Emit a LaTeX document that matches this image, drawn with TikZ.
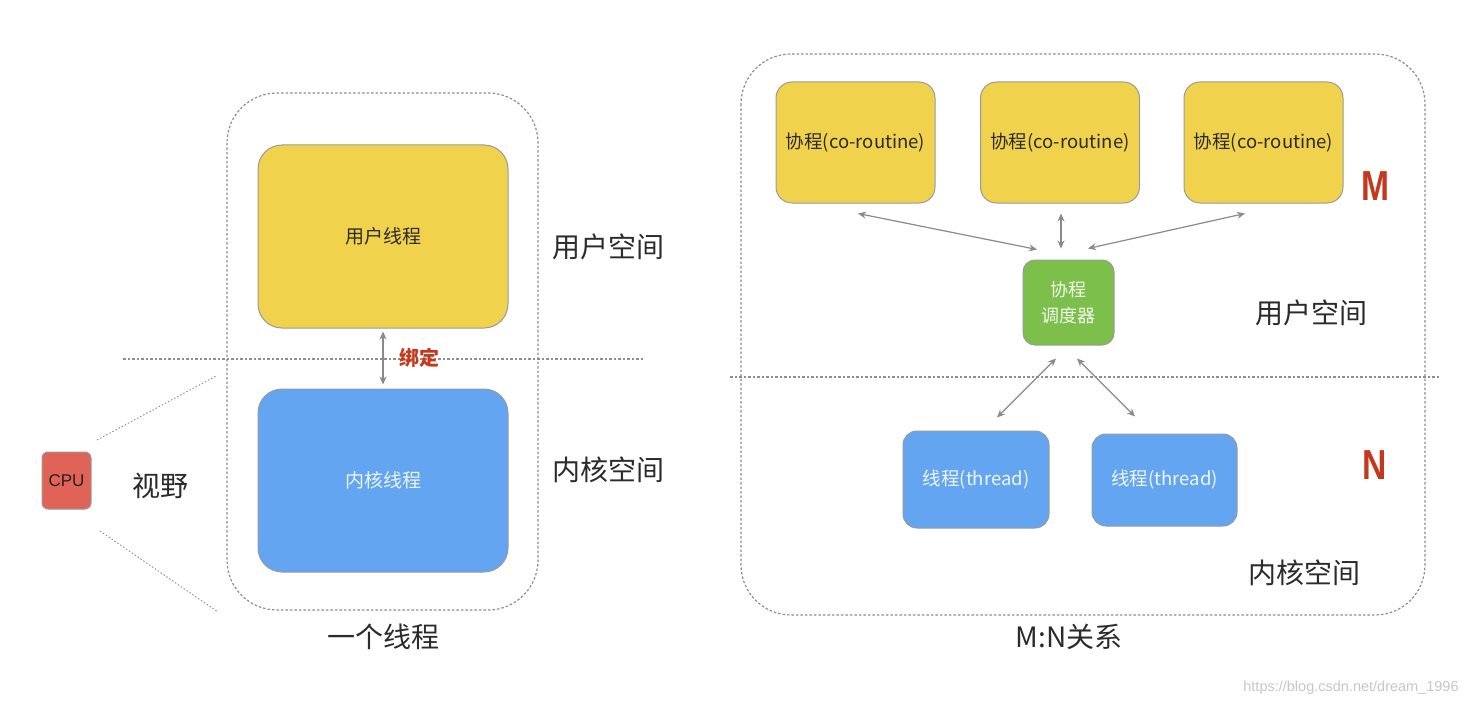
\documentclass[tikz,border=0pt]{standalone}
\usepackage{fontspec}
\setmainfont{Noto Sans CJK SC}
\newfontfamily\lat{Liberation Sans}
\usetikzlibrary{arrows.meta}
\definecolor{ylw}{HTML}{F1D24D}
\definecolor{blu}{HTML}{64A5F1}
\definecolor{grn}{HTML}{7DBF4B}
\definecolor{cpur}{HTML}{E06358}
\definecolor{redt}{HTML}{C4391E}
\definecolor{bord}{HTML}{9A9A9A}
\definecolor{dotc}{HTML}{8E8E8E}
\definecolor{arrc}{HTML}{8A8A8A}
\definecolor{txt}{HTML}{2B2B2B}
\newcommand{\fs}[1]{\fontsize{#1}{#1}\selectfont}
\tikzset{
  box/.style={draw=bord, line width=1pt, inner sep=0pt, align=center},
  outer/.style={draw=dotc, line width=1.2pt, dash pattern=on 2.5pt off 2pt, rounded corners=50pt},
  divider/.style={draw=dotc, line width=1.2pt, dash pattern=on 2.5pt off 2pt},
  sight/.style={draw=dotc, line width=0.9pt, dash pattern=on 1.5pt off 2pt},
  arr/.style={draw=arrc, line width=1.2pt, {Stealth[length=8pt,width=7pt]}-{Stealth[length=8pt,width=7pt]}},
  big/.style={text=txt, font=\fs{28}},
}
\begin{document}
\begin{tikzpicture}[x=1pt,y=-1pt]
\fill[white] (0,0) rectangle (1478,706);
\useasboundingbox (0,0) rectangle (1478,706);

% ---------- left part ----------
\draw[outer] (227,93) rectangle (538,610);
\draw[divider] (123,359) -- (643,359);

\node[box, fill=ylw, rounded corners=24pt, minimum width=250pt, minimum height=183pt, text=txt, font=\fs{19}]
  (ut) at (383,236.5) {用户线程};
\node[box, fill=blu, rounded corners=24pt, minimum width=250pt, minimum height=183pt, text=white!88!blu, font=\fs{19}]
  (kt) at (383,480.5) {内核线程};
\draw[arr, shorten <=3pt, shorten >=4pt] (ut.south) -- (kt.north);
\node[text=redt, font=\bfseries\fs{20}] (bind) at (419,358) {绑定};

\node[big] (us1) at (608,247) {用户空间};
\node[big] (ks1) at (608,470) {内核空间};
\node[big] (one) at (383,637) {一个线程};

\node[box, fill=cpur, rounded corners=6pt, minimum width=49pt, minimum height=57pt, text=txt!80!black, font=\lat\fs{17}]
  (cpu) at (66.5,480.5) {CPU};
\node[big] (view) at (160,486) {视野};
\coordinate (s1a) at (97,440);
\coordinate (s1b) at (216,376);
\coordinate (s2a) at (100,531);
\coordinate (s2b) at (218,612);
\draw[sight] (s1a) -- (s1b);
\draw[sight] (s2a) -- (s2b);

% ---------- right part ----------
\draw[outer] (741,54) rectangle (1425,615);
\draw[divider] (730,377) -- (1440,377);

\tikzset{co/.style={box, fill=ylw, rounded corners=16pt, minimum width=159pt, minimum height=121pt, text=txt, font=\fs{18.5}}}
\node[co] (c1) at (855.5,142.5) {协程(co-routine)};
\node[co] (c2) at (1060,142.5) {协程(co-routine)};
\node[co] (c3) at (1263.5,142.5) {协程(co-routine)};

\node[box, fill=grn, rounded corners=12pt, minimum width=91pt, minimum height=85pt, text=white!90!grn, font=\fs{18}, align=center]
  (sch) at (1068.5,302.5) {协程\\[8pt]调度器};

\tikzset{th/.style={box, fill=blu, rounded corners=14pt, text=white!90!blu, font=\fs{18.5}}}
\node[th, minimum width=146pt, minimum height=97pt] (t1) at (976,479.5) {线程(thread)};
\node[th, minimum width=145pt, minimum height=92pt] (t2) at (1164.5,480) {线程(thread)};

\draw[arr] ([shift={(2.5,10)}]c1.south) -- ([shift={(-31.5,-10)}]sch.north);
\draw[arr] ([shift={(1,10)}]c2.south) -- ([shift={(-7.5,-11)}]sch.north);
\draw[arr] ([shift={(-18.5,10)}]c3.south) -- ([shift={(19.5,-11)}]sch.north);
\draw[arr] ([shift={(-12.5,13)}]sch.south) -- ([shift={(21,-13)}]t1.north);
\draw[arr] ([shift={(8.5,13)}]sch.south) -- ([shift={(-29.5,-17)}]t2.north);

\node[text=redt, font=\lat\bfseries\fs{42}, xscale=0.8] (M) at (1375,186) {M};
\node[text=redt, font=\lat\bfseries\fs{42}, xscale=0.8] (N) at (1375,465) {N};

\node[big] (us2) at (1311,313) {用户空间};
\node[big] (ks2) at (1304,573) {内核空间};
\node[big] (mn) at (1069,637) {M:N关系};

\node[text=black!22, font=\lat\fs{14.5}] (url) at (1351,688) {https://blog.csdn.net/dream\_1996};
\end{tikzpicture}
\end{document}
